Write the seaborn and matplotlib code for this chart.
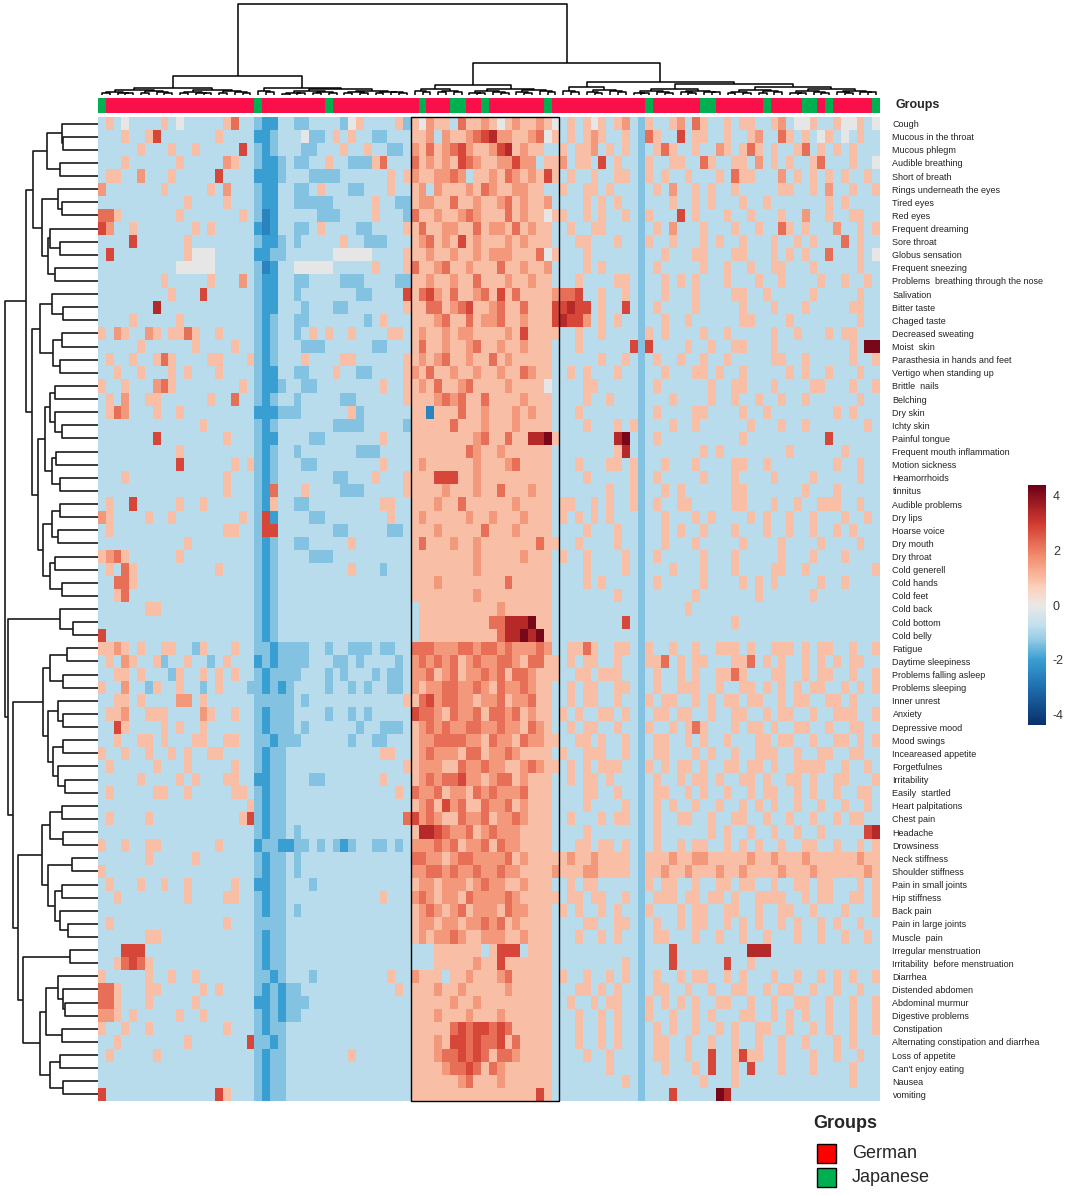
import numpy as np
import pandas as pd
import matplotlib
matplotlib.use("Agg")
import matplotlib.pyplot as plt
import seaborn as sns
from matplotlib.colors import LinearSegmentedColormap, ListedColormap
from matplotlib.patches import Rectangle
from matplotlib.collections import LineCollection

sns.set_style("white")
plt.rcParams["font.family"] = ["Liberation Sans", "DejaVu Sans"]
plt.rcParams["axes.unicode_minus"] = False

# symptom rows (top to bottom, dendrogram order)
SYMPTOMS = [
    "Cough", "Mucous in the throat", "Mucous phlegm", "Audible breathing", "Short of breath",
    "Rings underneath the eyes", "Tired eyes", "Red eyes", "Frequent dreaming", "Sore throat",
    "Globus sensation", "Frequent sneezing", "Problems  breathing through the nose", "Salivation",
    "Bitter taste", "Chaged taste", "Decreased sweating", "Moist  skin",
    "Parasthesia in hands and feet", "Vertigo when standing up", "Brittle  nails", "Belching",
    "Dry skin", "Ichty skin", "Painful tongue", "Frequent mouth inflammation", "Motion sickness",
    "Heamorrhoids", "tinnitus", "Audible problems", "Dry lips", "Hoarse voice", "Dry mouth",
    "Dry throat", "Cold generell", "Cold hands", "Cold feet", "Cold back", "Cold bottom",
    "Cold belly", "Fatigue", "Daytime sleepiness", "Problems falling asleep", "Problems sleeping",
    "Inner unrest", "Anxiety", "Depressive mood", "Mood swings", "Inceareased appetite",
    "Forgetfulnes", "Irritability", "Easily  startled", "Heart palpitations", "Chest pain",
    "Headache", "Drowsiness", "Neck stiffness", "Shoulder stiffness", "Pain in small joints",
    "Hip stiffness", "Back pain", "Pain in large joints", "Muscle  pain", "Irregular menstruation",
    "Irritability  before menstruation", "Diarrhea", "Distended abdomen", "Abdominal murmur",
    "Digestive problems", "Constipation", "Alternating constipation and diarrhea",
    "Loss of appetite", "Can't enjoy eating", "Nausea", "vomiting",
]

N_SAMPLES = 100

# cell levels, one letter per sample column (groups of 5)
LEVELS = {"a": -3.5, "b": -2.6, "c": -2.0, "d": -1.4, "e": -0.85, "f": -0.4, "g": -0.1,
          "h": 0.95, "i": 1.6, "j": 2.2, "k": 2.8, "l": 3.4, "m": 4.2}

CELL_ROWS = [
    "ehege eeehe geeee ehjee dccee ddeee edghe eeehd hgihh ejhhi hghih hihge hehgh ehied heehi ejhee hehhe ehieg gheeh ggheg",
    "eeehe ehkee eeeee heeee ccdee egdde hehee ddeee hhiei hhijk liihh ijghe hehih eehed jheek ehhee heehi eejhe heghe gehee",
    "eeeee heeeh eehee eeeke dcdee eddee eheeh eedde ihjhi jkihh iklhi hheeh ehhie hehed ehjhe eheei hehjh eheeh jeheh eheee",
    "eeehe eeeee heeee eihee dccde ddeeh eeddd hjeee jhihi hkjih hiiki iehhi ehhek eheed heehh eejhe ehhei ehehe ehjee eheeg",
    "ehhee ieeeh eeeee keeee cccde eeddd deeee eeheh ihhii jiehh ihjih ihkhe heehe ehhed hehee heeeh ejhhe eeieh ehehe heehe",
    "ieeee eeehe eeeeh eieee dccee ddehe eedde eehee hieih hhihj ihhii hheeh eehhe heeed eheie ehehe eheee eehhe eheie eheeh",
    "eeeee eeeee eheee eheee dccee ddddd eeeee heedd hiihh jhhih hijhi hhiee eeheh eheed eeehe ehehe eehee heeee eeehe heeee",
    "jjhee eeeee heeee eeehe dbcee eeedd deeee heeed jhhih hijih hhjhi hhghh eeheh eehed heeek eheee heehe eehee ieehe ehhee",
    "kieeh eeeee eeheh eeeee cbcee ddehe eeedd eeeeh hjhhi ihhjh iihjh ihhee heehh eeeed eheie eehee eheeh eejhe heeei eeheh",
    "eeeek eeeee eheee eeeee dccde deeee eheed ddeee hijhi hkhih hhihi hhhee ehhee eheed heehe eeheh eehee eheeh eheee jehee",
    "ekeee eeeee ehggg eeeee ccdde eeeee ggggg eeeeh hhihh ihhih iiihh hjghe eehee eeeed eehee ehhee ehhee ehehe heeje eeheg",
    "eeeee eeeee ggggg eeeee dbcee ggggg eeeee heeeh jhhij hhihh hjhhi hhiee eeheh eeeed eheee eehee heehe ehhee eheee eehee",
    "eeeee eeehe eeeeh eeeie dccee ddeee eddde eeedd hhihh ihhjh hhihh ihhee eheee ehhed eeheh eheee heeeh eehee eehee heehe",
    "eeeee eeeeh eeeke eeeee dccee deeee eeedd eeeek hjkih jhhij hkhjh hhhij jkeeh eehed eehee eheee ehhee heeee eheee eehee",
    "eeeee eelee eeeee eeeee dccee edeee ddeee eeeeh hhjjh ijkhh ijhhj hhhkk lkkeh eeked eheee eheee eehee eheee heeee ehhee",
    "eeeeh eeeee heeee eeeee dcdee ddeee eeeed eheee hhhij hhjhi ijhhi hhhkl kkieh eheed eehee heeee eehhe eeehe eeeee eehee",
    "heihe eiheh hjhee heeee dcdee deheh eehee eehhe hihhi hiihh hhihk hhhhe eheeh eeeed hehee eehee heeee eheeh eeehe hheee",
    "eeeee heeee eehee eehee dcdee eddde eeeee ddeee hjhhi hhijh hihhi hhhee eheee eeekd keeee heehe ehhee eheee eeeee ehemm",
    "eheeh eehjh eeeeh heeeh dcdee eheee ehhee eeeeh hihij hhihh jhihh hhhee eeeeh eehed eheeh eehee heeee ehhee heeee eheeh",
    "eehee heeeh eheee heeee dccee ddeee heedd eeeeh ihjhh ihhih hihhj ihhee hehee eheed eehee ehheh eehee eeehe heehe eehee",
    "heehe eeijh eeeee eeehe dccde eddee eeeee eheeh hihjh hijhh hhihh hhgee eehhe eeeed eheee eeehe ehhee eheee ehhee eheeh",
    "eheie ehhee eeeeh eejee dcdee deeee eddee eeeeh hhhij ijhhj hhhhi hhhee eehee heeed eeehe eeehe eheeh eehee heeee eehee",
    "ehjie eehee heeee eeeee cccdd deeee eehde eeeee hhbhh hjhhi hhhih ihhee eheee eeeed eheee ehhee eehee heeee eeeeh eheee",
    "eeeee eeeee eeehe eeeee dcdee eeeee dddde eeeed hhhhh jhhhi hhhih hhhee eehee ehehd eeehe eheee eeehe eehee heeee eeehe",
    "eeeee eekee eeeee eheee dccee eedde eeeee eheee hhhhh hhhij hhjhh llmhe eeeee elmed eheee eeeee eehee eeeee eeeke eeeee",
    "eeeee eeeee heeee eeeee dcdee deeee eeedd deeee hhhhh hhjih hihhh hhhee eeeee ehled eeeee eeheh eeeee eeehe eeeee heeee",
    "eeeee eeeee keeee eeheh dcdee eddee eeeee eheee hihhh hhhih hhijh hhhee eheee hhehd eehee eheee ehhee heeee eeeeh eehee",
    "eeehe eeeee eeeee eheee dcdee eeeee ddeee heeeh hhhkk khhih hhhhh hhhee eehee eeehd eheee eehee eheee eheee eheee eehee",
    "eeeee eeeee eeeee eheee dcjee eheee eddde eeeeh hhhhi hhhih hjhhh ihhee eeeee heehd eeheh eeeee ehhee eeeee heeeh eeeee",
    "eheek eeeee heehe eeeee dchee ddeee eeeee ehhee hhhih hjhhh hhhih hhheh heehe heehd eheeh heeee ehhee eheeh eehhh eehee",
    "iheee eheeh eeeee eeehe dkcee eedde eeeee eehee hihhh hhihh ihhhi hhheh ehehe heeed eehee ehehe eeehe heehe eheee heehe",
    "eheee eeeee eeeee ehhee dkkee eeeee ddeee eedde hhhih hhhhj hhhih hhhee eehee eheed eeheh eehee eheee heehe eheeh eheee",
    "eeeee eeeee eheee eeeee dcdee ddeee eehee eeeee hjhhh ihhih hhhhh hjhhe eheee eheed eehee eheee eehee eehee eehee eehee",
    "hijhe eeeee heeee eeeee dcdee eeddd eeeee eeeee hhhhh hhhih hhhhi hhheh eehee eehed eheee eehee eheee eehee eheee heeee",
    "ehejh eeeee eeeee heeee dcdee eeeee eehee edeee hhhhh hhhih hhhhh hhhee eehee eehed eeehe eehee eheee ehhee heeee eeeeh",
    "eejjh eeeee eeeee eeeee dcdee eeeee eeeee eeeee hhhih hhhhh hhjhh hhhee eeheh eeeed eheee eehee eeheh eheee eehee heeee",
    "eehje eeeee eeeee eeeee dcdee eeeee eeeee eeeee hhhhh hhhih hhhhh hhhee eeeee eheed eeeee eheee eeeeh eeeee eheee eeeee",
    "eeeee ehhee eeeee eeeee dcdee eeeee eeeee eeeee ehhhh hhhhh hihhh hhhee eeeee eeeed eeeee heeee eeeee eeeee eeeee eeeee",
    "eeeee eeeee eeeee eeeee dcdee eeeee eeeee eeeee ehhhh hhhhh jjlll mhhee eeeee eeked eeeee eeeee eheee eeeee eeeee eeeee",
    "keeee eeeee eeeee eeeee dcdee eeeee eeeee eeeee ehhhh hhhhh hjllm lmhee eeeee eeeed eeeee eeeee eeeee eeeee eeeee eeeee",
    "hhihe heehh eedhe eehee ddcdd ddeed eeddd eddee jjjii ijjij jijii ijiee hhjhe ehhed heehe eheeh hhehe ehhhe hehhe eheeh",
    "eheih eehde eheed eheee cdcdd ddeee ddede eeede ijiji jhiji ijjih jjhhe hehhe eheed hhjeh ehhee ehhje hehee heheh ehhee",
    "eehhe heeed heehe hehee dcddd deeed edeee dedde iijhi jhiij ijhjj ihhhe ehheh hheed eheeh eheeh hjhee ehhee hehhe eheeh",
    "heeie edhee heede heeed dcdcd eeeed eeded eedde ihiij jiiji hjiij ihhee hehhe ehhed eheeh hheeh eehhe heheh ehhee heheh",
    "eehhe heeee iiehe eeeee ddddd edeee eeeee eeeeh hjkij jiihi ijhii jhhee hehhe eheed hehhe ehehe hhehh eeheh heehh eheee",
    "ehhie ehhhe eeeih eehee dcddd eeeed eeded eeeee kjjih jiijh jjijh ihheh eheeh hehed ehheh heehe ehhee hehhe eheeh hheeh",
    "eekhe eeehe heehe eeeee dcddd edeee eeede eddde hijij iijji ijiih jihee hehhe eheed heehe hjhee ehehh eheeh heehe ehhee",
    "eehee hhehe eehhe ehhee ddcdd deeee eedee ddeee hiijj jjiih jiihj iihhe ehheh eehed ehhee hehee heeeh hehhe eheeh heheh",
    "heehe eheeh eheeh heeee dcdde eeeee eeeee ehhee hijii ihjjh iijih hhheh eehhh eehed ehhee ehehe eheeh hheeh eehhe ehhee",
    "eheee eehee eheee eehee dcdde eeeee eeeee eeeeh hiiih hjiij iihhi jihhe heheh hheed heheh hehee hhehh eheeh hhhee heehe",
    "eeeee heeee hehee ehhee ccdde eedde eeeee eheee hijij jkiih ijjhi hhhee hehhe heeed eheeh ehheh eehhe heehh eheeh heeeh",
    "eheee eehhe eheee eehhe dcdde eeeee eeeee eeehe jiijh iihji jiiij hhhee eehhe eheed ehhee hehee heehe hheeh eheeh eehhe",
    "eeeee eeeee eeeee eeeeh dcdde eeeee eeeee eeeee hijhk ijhhj iijhi hhhee eehee eehed ehehe eheeh eeheh eheeh eehee heehe",
    "eheee eheee eeeee eeehk dcdde eeeee eeeee eeeej kijih hjiij hiiji hhhee heeeh ehhed eheeh heehe ehhee heehe eheeh ehhee",
    "eeeee eeeee eeeee eeeee dcdde deeee eeeee eeeee hllkj iijhi jiiih hhhee eehee eeeed eheee eeehe heehe eheeh eehee eeekl",
    "heehe ehhee eeeee heeee cddcc ddede dcdee ddede iiiji jhiij hjiih hhhee ehheh hehed eheeh ehhee heheh eehee hheeh eeheh",
    "eeeee eheee eehee eeeee dcdde deeee eeeee eeeee jjiih ijjii iijhi hhhhh ihhih hhhed hhhih hiihh hhhih hihhh ihhhh hhihh",
    "heeee eeeee eeeee eeeee dcdde deeee eeeee eeeee iijji jiiji ijiih hhhih hhiih hhhed hhihh ihhhi hhihh hhihh hihhh hhhih",
    "eheee heehe eheee eehee ccdde eedee eeeee eeeee hiihi iihij iihhi hhhee hehhe eeeed hehhe eheeh hehhe eheeh hehhe eeheh",
    "eehee eeeee eheee ehhee dcdde eeeee eeeee eheee ijihi ihjii iijih hhhhe hhehh eehed ehhhe hhehh eheeh hhhee hehhe ehheh",
    "eeeee eeeee eeeee eeeee dcdde deeee eeeee eeeee hijih ijhii ihjii hhheh eheeh eheed heeeh ehhee hheeh eehhe eheee heeeh",
    "eheee eeeee eeeee eheee dddde eeeee eeeee eeeee hiihi ihiij ijhih hhhee eehhe ehhed eheeh ehhee heheh eeheh eeheh eehee",
    "eeeee ehhee eeeee eeeee dcdde eeeee eeeee eeeee hihii jihhi iihhi hhhee eheeh eheed ehhee eheeh eehee heeeh eehee heehe",
    "eeekk keeee eeeee eeeee dcdde eeeee eeeee eeeee eeehh hhhhe hkkke hhhee eeeee eeeed eeeke eeeee eeell leeee eeeee eeeee",
    "eehjk jheee eeeee eeeee dcdde eeeee eeeee eeeee eeehh hhhih hkhhh hhhee eeeee eehed eeeke eeeee keehe eeeee eeeee eeeee",
    "heeee eheeh eehee eeeee ddcde eedee eeeee eehee ihhhe hhihh hijhh hhheh eehee hehed eheeh ehhee hehee eheeh eeheh eheeh",
    "jjhee ehhee eeehe heeee dcdcd deeee eeeee eeehe hhhih hihhh hhihh hhhee ehheh eheed ehhee heehe ehhee hehhe eheeh eehee",
    "jjhee eheee eehee eeeee ccdcd ddeee eeeee eeeee hhhhh ihhih hhhhh hhhee heehe hheed heheh eheeh heehe eheeh heehe eheeh",
    "iiheh eeeee heehe eeeee dcdcd deeee eeeee eeeee hhhih hhihh hihhh hhhee eheeh eheed heehe ehehe eehhe ehehe heehe eheeh",
    "heehe eheee eeeee eheee dcdde eeeee eeeee eeeee hhhhh jkjkk jkjhh hhhee eheeh eheed ehehe eheeh eheeh heehe ehehe eheeh",
    "eehee eeeee eheee eeeek ddcde eeeee eeeee eeeee hhhih kkjkj jkhjh hhhee eheeh eheed ehhee heehe eheeh eehee heeeh eheee",
    "eheee eehee eeeee eeeee dcdde eeeee eehee eeeee hhhij jkjkj hjjih hhhee eehee heeed ehhee heeke ehkhh eehee eheeh eehee",
    "eeeee eeeee eeeee eeeee dcdde eeeee eeeee eeeee hhhhi jjkjh jihhh hhhee eeeee heeed eehee eheke eheke eehee eheee eheee",
    "eeeee eeeee eeeee eeeee dcdde eeeee eeeee eeeee hhhhh hijhh hihhh hhhee eeeee eehed eeeee eehee eheee eeeee eeeee eheee",
    "keeee eeeee eeeee kheee dcdde eeeee eeeee eeeee hhhhh hhhhh hhhhh hkhee eeeee eeeed eeeke eeeem leeee eeeee eeeee eeeee",
]

# sample columns belonging to the Japanese group (the rest are German)
JAPANESE_COLS = [0, 20, 29, 41, 45, 46, 49, 57, 70, 77, 78, 85, 90, 91, 93, 99]
GROUP_NAMES = ["German", "Japanese"]
GROUP_STRIP = ["#fa0f4b", "#00b050"]
GROUP_KEY = ["#ff0000", "#00b050"]

# highlighted block of samples (first column, number of columns)
BOX_START, BOX_WIDTH = 40, 19


def node(left, right, h):
    return (left, right, h)


def comb(a, b, h):
    # small dense sub-cluster at the bottom of the column dendrogram
    if b - a == 1:
        return a
    m = (a + b) // 2
    return (comb(a, m, h * 0.6), comb(m, b, h * 0.75), h)


# row tree, merge heights in pixels from the leaves
ROW_A = node(node(0, node(1, 2, 35), 36), node(3, 4, 38), 51)
ROW_B = node(node(5, node(6, 7, 36), 40), node(node(8, node(9, 10, 38), 48), node(11, 12, 43), 50), 56)
ROW_C = node(node(13, node(14, 15, 35), 46), node(node(16, 17, 36), node(18, 19, 38), 45), 58)
ROW_D = node(node(node(20, 21, 43), node(22, node(23, 24, 36), 43), 48),
             node(node(25, 26, 42), node(27, 28, 38), 46), 53)
ROW_E = node(node(node(29, 30, 38), node(31, 32, 40), 46), node(node(33, 34, 43), node(35, 36, 36), 48), 55)
ROW_F = node(37, node(38, 39, 25), 38)
ROW_G = node(node(node(40, 41, 31), node(42, 43, 35), 48),
             node(node(44, node(45, 46, 35), 40), node(node(47, 48, 35), node(49, node(50, 51, 33), 40), 45), 50), 55)
ROW_H = node(node(node(52, 53, 36), node(54, 55, 35), 48),
             node(node(56, 57, 26), node(node(58, 59, 36), node(60, node(61, 62, 30), 38), 43), 50), 56)
ROW_I = node(63, 64, 28)
ROW_J = node(node(node(65, node(66, node(67, 68, 33), 35), 40), node(69, 70, 36), 52),
             node(node(71, 72, 38), node(73, 74, 35), 48), 58)
ROW_TREE = node(node(node(ROW_A, ROW_B, 65), node(ROW_C, node(ROW_D, ROW_E, 60), 66), 72),
                node(ROW_F, node(ROW_G, node(ROW_H, node(ROW_I, ROW_J, 75), 80), 85), 90), 93)
ROW_TOP = 93

# column tree, merge heights in pixels from the leaves
COL_L = node(node(comb(0, 10, 5), comb(10, 20, 5.5), 7), node(comb(20, 23, 4), comb(23, 40, 6), 7.5), 19)
COL_RL = node(comb(40, 47, 6), comb(47, 59, 6.5), 10)
COL_RR = node(node(comb(59, 62, 4), comb(62, 68, 5), 8),
              node(comb(68, 80, 6), node(comb(80, 88, 5.5), comb(88, 100, 6), 8.5), 11), 13)
COL_TREE = node(COL_L, node(COL_RL, COL_RR, 32), 91)
COL_TOP = 91


def decode(row):
    s = row.replace(" ", "")
    s = (s + "e" * N_SAMPLES)[:N_SAMPLES]
    return [LEVELS[ch] for ch in s]


data = pd.DataFrame([decode(r) for r in CELL_ROWS], index=SYMPTOMS)
groups = np.array([[1 if c in JAPANESE_COLS else 0 for c in range(N_SAMPLES)]])

cmap = LinearSegmentedColormap.from_list("symptoms", [
    (0.0, "#08306b"), (0.159, "#1f6fb0"), (0.273, "#3a9fd3"), (0.364, "#9ccfe6"),
    (0.42, "#c4e1ee"), (0.5, "#ebe7e5"), (0.568, "#fbd3bf"), (0.636, "#f7b195"),
    (0.727, "#ef7f62"), (0.841, "#d23a30"), (1.0, "#6d0017")])

W, H = 1065, 1195
fig = plt.figure(figsize=(W / 100, H / 100), dpi=100)


def box(x0, y0, x1, y1):
    return [x0 / W, 1 - y1 / H, (x1 - x0) / W, (y1 - y0) / H]


ax_hm = fig.add_axes(box(98, 117, 880, 1101))
ax_cc = fig.add_axes(box(98, 98, 880, 113))
ax_cd = fig.add_axes(box(98, 4, 880, 95))
ax_rd = fig.add_axes(box(5, 117, 98, 1101))
cax = fig.add_axes(box(1028, 485, 1046, 725))

sns.heatmap(data, ax=ax_hm, cmap=cmap, vmin=-4.4, vmax=4.4, cbar_ax=cax,
            xticklabels=False, yticklabels=SYMPTOMS, cbar_kws={"ticks": [-4, -2, 0, 2, 4]})
ax_hm.yaxis.tick_right()
ax_hm.tick_params(axis="y", length=0, pad=9, labelsize=6.5, labelcolor="#222222")
for lbl in ax_hm.get_yticklabels():
    lbl.set_rotation(0)
ax_hm.set_xlabel("")
ax_hm.set_ylabel("")
ax_hm.add_patch(Rectangle((BOX_START, 0), BOX_WIDTH, len(SYMPTOMS), fill=False,
                          edgecolor="black", lw=1.0, clip_on=False))

cb = ax_hm.collections[0].colorbar
cb.outline.set_visible(False)
cax.tick_params(length=0, labelsize=9, labelcolor="#333333", pad=5)

sns.heatmap(groups, ax=ax_cc, cmap=ListedColormap(GROUP_STRIP), vmin=0, vmax=1,
            cbar=False, xticklabels=False, yticklabels=False)
fig.text(895 / W, 1 - 105 / H, "Groups", fontsize=9, fontweight="bold", va="center", ha="left")


def tree_segments(tree):
    segs = []

    def rec(nd):
        if isinstance(nd, int):
            return nd + 0.5, 0.0
        left, right, h = nd
        pl, hl = rec(left)
        pr, hr = rec(right)
        segs.append([(pl, hl), (pl, h), (pr, h), (pr, hr)])
        return (pl + pr) / 2, h

    rec(tree)
    return segs


col_segs = tree_segments(COL_TREE)
ax_cd.add_collection(LineCollection(col_segs, colors="black", linewidths=1.1, clip_on=False))
ax_cd.set_xlim(0, N_SAMPLES)
ax_cd.set_ylim(0, COL_TOP)
ax_cd.axis("off")

row_segs = [[(h, p) for p, h in seg] for seg in tree_segments(ROW_TREE)]
ax_rd.add_collection(LineCollection(row_segs, colors="#1a1a1a", linewidths=1.2, clip_on=False))
ax_rd.set_ylim(len(SYMPTOMS), 0)
ax_rd.set_xlim(ROW_TOP, 0)
ax_rd.axis("off")

# group legend at the bottom
fig.text(813 / W, 1 - 1123 / H, "Groups", fontsize=13, fontweight="bold", va="center", ha="left")
for i, (name, col) in enumerate(zip(GROUP_NAMES, GROUP_KEY)):
    y_top = 1144 + 24 * i
    fig.patches.append(Rectangle((817 / W, 1 - (y_top + 19) / H), 19 / W, 19 / H,
                                 facecolor=col, edgecolor="black", lw=1.0,
                                 transform=fig.transFigure, figure=fig))
    fig.text(852 / W, 1 - (y_top + 10) / H, name, fontsize=13, va="center", ha="left")

fig.savefig("out.png", dpi=100)
